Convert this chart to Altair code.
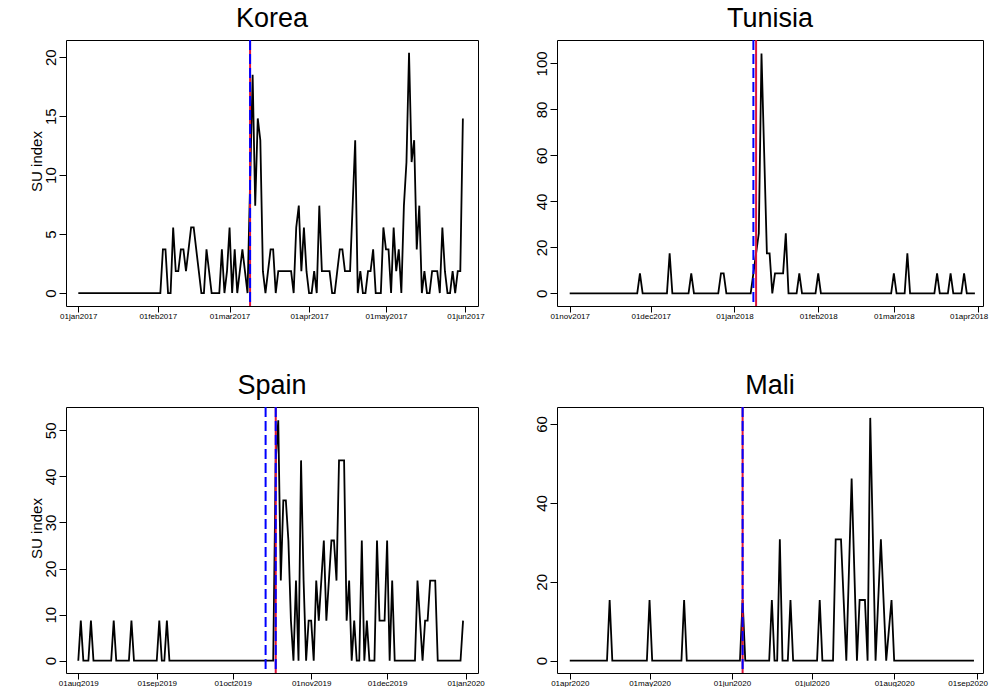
import altair as alt
import pandas as pd

# ---------------- data ----------------
korea_start = "2017-01-01"
korea_vals = [
    0, 0, 0, 0, 0, 0, 0, 0, 0, 0,
    0, 0, 0, 0, 0, 0, 0, 0, 0, 0,
    0, 0, 0, 0, 0, 0, 0, 0, 0, 0,
    0, 0, 0, 3.70, 3.70, 0, 0, 5.56, 1.85, 1.85,
    3.70, 3.70, 1.85, 3.70, 5.56, 5.56, 3.70, 1.85, 0, 0,
    3.70, 1.85, 0, 0, 0, 0, 3.70, 0, 1.85, 5.56,
    0, 3.70, 0, 1.85, 3.70, 1.85, 0, 9.26, 18.52, 7.41,
    14.81, 12.96, 1.85, 0, 1.85, 3.70, 3.70, 0, 1.85, 1.85,
    1.85, 1.85, 1.85, 1.85, 0, 5.56, 7.41, 1.85, 5.56, 1.85,
    0, 0, 1.85, 0, 7.41, 1.85, 1.85, 1.85, 1.85, 0,
    0, 1.85, 3.70, 3.70, 1.85, 1.85, 1.85, 7.41, 12.96, 0,
    1.85, 0, 0, 1.85, 1.85, 3.70, 0, 0, 0, 5.56,
    3.70, 3.70, 0, 5.56, 1.85, 3.70, 0, 7.41, 11.11, 20.37,
    11.11, 12.96, 3.70, 7.41, 0, 1.85, 0, 0, 1.85, 1.85,
    1.85, 0, 5.56, 1.85, 0, 0, 1.85, 0, 1.85, 1.85,
    14.81,
]
korea_ticks = ["2017-01-01", "2017-02-01", "2017-03-01", "2017-04-01", "2017-05-01", "2017-06-01"]
korea_yticks = [0, 5, 10, 15, 20]

tunisia_start = "2017-11-01"
tunisia_vals = [
    0, 0, 0, 0, 0, 0, 0, 0, 0, 0,
    0, 0, 0, 0, 0, 0, 0, 0, 0, 0,
    0, 0, 0, 0, 0, 0, 8.70, 0, 0, 0,
    0, 0, 0, 0, 0, 0, 0, 17.39, 0, 0,
    0, 0, 0, 0, 0, 8.70, 0, 0, 0, 0,
    0, 0, 0, 0, 0, 0, 8.70, 8.70, 0, 0,
    0, 0, 0, 0, 0, 0, 0, 0, 8.70, 17.39,
    26.09, 104.35, 60.87, 17.39, 17.39, 0, 8.70, 8.70, 8.70, 8.70,
    26.09, 0, 0, 0, 0, 8.70, 0, 0, 0, 0,
    0, 0, 8.70, 0, 0, 0, 0, 0, 0, 0,
    0, 0, 0, 0, 0, 0, 0, 0, 0, 0,
    0, 0, 0, 0, 0, 0, 0, 0, 0, 0,
    8.70, 0, 0, 0, 0, 17.39, 0, 0, 0, 0,
    0, 0, 0, 0, 0, 0, 8.70, 0, 0, 0,
    0, 8.70, 0, 0, 0, 0, 8.70, 0, 0, 0,
    0,
]
tunisia_ticks = ["2017-11-01", "2017-12-01", "2018-01-01", "2018-02-01", "2018-03-01", "2018-04-01"]
tunisia_yticks = [0, 20, 40, 60, 80, 100]

spain_start = "2019-08-01"
spain_vals = [
    0, 8.70, 0, 0, 0, 8.70, 0, 0, 0, 0,
    0, 0, 0, 0, 8.70, 0, 0, 0, 0, 0,
    0, 8.70, 0, 0, 0, 0, 0, 0, 0, 0,
    0, 0, 8.70, 0, 0, 8.70, 0, 0, 0, 0,
    0, 0, 0, 0, 0, 0, 0, 0, 0, 0,
    0, 0, 0, 0, 0, 0, 0, 0, 0, 0,
    0, 0, 0, 0, 0, 0, 0, 0, 0, 0,
    0, 0, 0, 0, 0, 0, 0, 0, 43.48, 52.17,
    17.39, 34.78, 34.78, 26.09, 8.70, 0, 17.39, 0, 43.48, 17.39,
    0, 8.70, 8.70, 0, 17.39, 8.70, 17.39, 26.09, 8.70, 17.39,
    26.09, 26.09, 17.39, 43.48, 43.48, 43.48, 8.70, 17.39, 0, 8.70,
    0, 0, 26.09, 0, 8.70, 0, 0, 0, 26.09, 8.70,
    8.70, 8.70, 26.09, 0, 17.39, 0, 0, 0, 0, 0,
    0, 0, 0, 0, 17.39, 8.70, 0, 8.70, 8.70, 17.39,
    17.39, 17.39, 0, 0, 0, 0, 0, 0, 0, 0,
    0, 0, 8.70,
]
spain_ticks = ["2019-08-01", "2019-09-01", "2019-10-01", "2019-11-01", "2019-12-01", "2020-01-01"]
spain_yticks = [0, 10, 20, 30, 40, 50]

mali_start = "2020-04-01"
mali_vals = [
    0, 0, 0, 0, 0, 0, 0, 0, 0, 0,
    0, 0, 0, 0, 0, 15.38, 0, 0, 0, 0,
    0, 0, 0, 0, 0, 0, 0, 0, 0, 0,
    15.38, 0, 0, 0, 0, 0, 0, 0, 0, 0,
    0, 0, 0, 15.38, 0, 0, 0, 0, 0, 0,
    0, 0, 0, 0, 0, 0, 0, 0, 0, 0,
    0, 0, 0, 0, 0, 15.38, 0, 0, 0, 0,
    0, 0, 0, 0, 0, 0, 15.38, 0, 0, 30.77,
    0, 0, 0, 15.38, 0, 0, 0, 0, 0, 0,
    0, 0, 0, 0, 15.38, 0, 0, 0, 0, 0,
    30.77, 30.77, 30.77, 15.38, 0, 23.08, 46.15, 23.08, 0, 15.38,
    15.38, 15.38, 0, 61.54, 30.77, 0, 15.38, 30.77, 15.38, 0,
    7.69, 15.38, 0, 0, 0, 0, 0, 0, 0, 0,
    0, 0, 0, 0, 0, 0, 0, 0, 0, 0,
    0, 0, 0, 0, 0, 0, 0, 0, 0, 0,
    0, 0, 0,
]
mali_ticks = ["2020-04-01", "2020-05-01", "2020-06-01", "2020-07-01", "2020-08-01", "2020-09-01"]
mali_yticks = [0, 20, 40, 60]

# vertical reference lines: (date, kind)
korea_lines = [("2017-03-09", "combo")]
tunisia_lines = [("2018-01-08", "bdash"), ("2018-01-09", "red")]
spain_lines = [("2019-10-14", "bdash"), ("2019-10-18", "combo")]
mali_lines = [("2020-06-05", "combo")]

FONT = "Liberation Sans"
BLUE = "#0000FF"
RED = "#DC143C"


def ms(s, add_days=0.0):
    t = pd.Timestamp(s, tz="UTC") + pd.Timedelta(days=add_days)
    return int(t.timestamp() * 1000)


def panel(name, start, vals, ticks, yticks, ydom, xdom, lines, width, ylab, edge_shift=0):
    dates = pd.date_range(start, periods=len(vals), freq="D").strftime("%Y-%m-%d")
    df = pd.DataFrame({"date": list(dates), "val": vals})
    h = 266

    xaxis_kw = dict(
        values=[ms(t) for t in ticks],
        labelExpr="lower(utcFormat(datum.value, '%d%b%Y'))",
        labelFontSize=8,
        labelPadding=0,
        tickSize=6,
        labelFlush=False,
        labelOverlap=False,
    )
    if edge_shift:
        # keep the last label of the right-hand panels inside the page
        xaxis_kw["labelOffset"] = {
            "condition": {"test": f"datum.value >= {ms(ticks[-1])}", "value": edge_shift},
            "value": 0,
        }

    def xenc():
        return alt.X(
            "date:T",
            title=None,
            scale=alt.Scale(type="utc", domain=[ms(start, xdom[0]), ms(start, xdom[1])], nice=False),
            axis=alt.Axis(**xaxis_kw),
        )

    ykw = dict(
        values=yticks,
        labelAngle=270,
        labelAlign="center",
        labelBaseline="bottom",
        labelFontSize=15,
        labelPadding=1,
        tickSize=7,
    )
    if ylab:
        ykw.update(
            titleFontSize=15,
            titleFontWeight="normal",
            titleX=-30,
            titleY=h / 2 - 12,
            titleAngle=270,
            titleAlign="center",
            titleBaseline="middle",
        )
        ytitle = "SU index"
    else:
        ytitle = None
    yenc = alt.Y(
        "val:Q",
        title=ytitle,
        scale=alt.Scale(domain=ydom, nice=False, zero=False),
        axis=alt.Axis(**ykw),
    )

    line = alt.Chart(df).mark_line(color="black", strokeWidth=1.8, clip=True).encode(x=xenc(), y=yenc)

    layers = [line]
    for d, kind in lines:
        ld = pd.DataFrame({"date": [d]})
        if kind in ("combo", "red"):
            layers.append(alt.Chart(ld).mark_rule(color=RED, strokeWidth=2).encode(x=xenc()))
        if kind in ("combo", "bdash"):
            layers.append(
                alt.Chart(ld).mark_rule(color=BLUE, strokeWidth=2, strokeDash=[10, 4]).encode(x=xenc())
            )

    return alt.layer(*layers).properties(
        width=width,
        height=h,
        title=alt.TitleParams(
            name, fontSize=27, fontWeight="normal", font=FONT, color="black", offset=6,
        ),
    )


kor = panel("Korea", korea_start, korea_vals, korea_ticks, korea_yticks, [-1.1, 21.46], [-4.8, 155.9], korea_lines, 412, True)
tun = panel("Tunisia", tunisia_start, tunisia_vals, tunisia_ticks, tunisia_yticks, [-5.5, 110.2], [-4.7, 153.0], tunisia_lines, 426, False, edge_shift=-9)
spa = panel("Spain", spain_start, spain_vals, spain_ticks, spain_yticks, [-2.67, 55.07], [-4.85, 157.9], spain_lines, 412, True)
mal = panel("Mali", mali_start, mali_vals, mali_ticks, mali_yticks, [-3.12, 64.3], [-4.8, 155.4], mali_lines, 426, False, edge_shift=-9)

chart = (
    alt.concat(
        kor, tun, spa, mal,
        columns=2,
        spacing={"row": 101, "column": 79},
        bounds="flush",
        align="each",
    )
    .properties(padding={"left": 20, "top": -4, "right": 0, "bottom": -1}, background="white")
    .configure_view(stroke="black", strokeWidth=1)
    .configure_axis(
        domain=False,
        grid=False,
        tickColor="black",
        tickWidth=1,
        labelColor="black",
        titleColor="black",
        labelFont=FONT,
        titleFont=FONT,
    )
    .configure_title(font=FONT, anchor="middle")
)

chart.save("out.html", embed_options={"renderer": "svg", "actions": False})
